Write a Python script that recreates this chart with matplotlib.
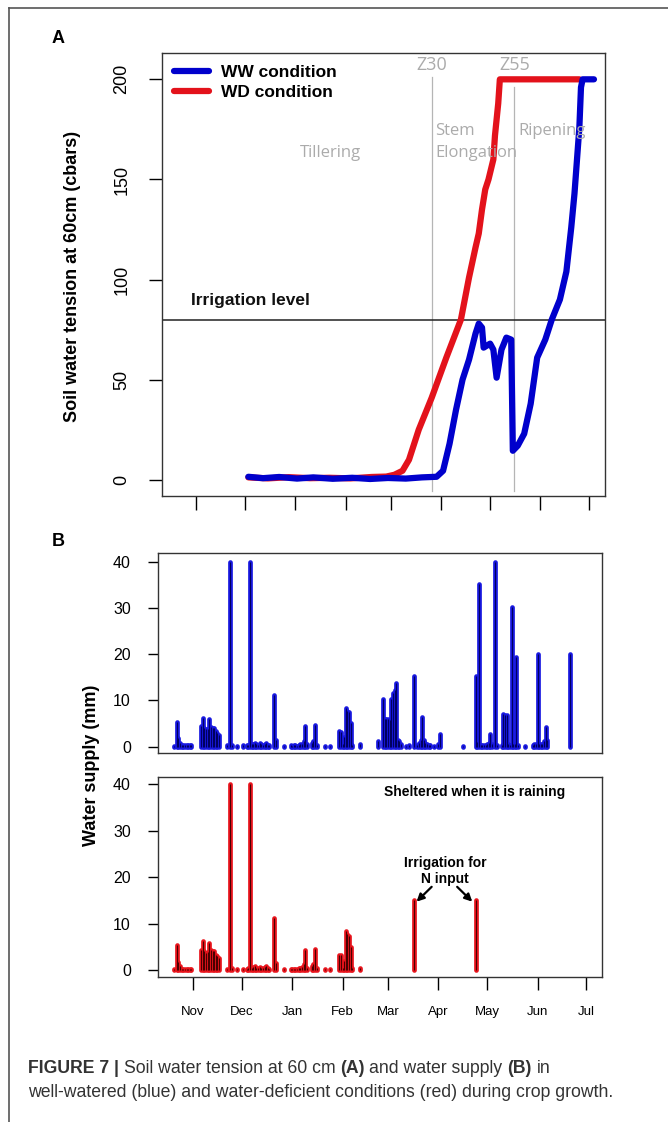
import matplotlib
matplotlib.use('Agg')
import matplotlib.pyplot as plt
import matplotlib.dates as mdates
from matplotlib.lines import Line2D

plt.rcParams['font.family'] = ['Liberation Sans', 'DejaVu Sans']

W, H = 668, 1122

# ---- panel A: soil water tension (cbars) ----
ww_tension_dates = ['2012-12-03', '2012-12-12', '2012-12-22', '2013-01-02', '2013-01-12',
                    '2013-01-24', '2013-02-05', '2013-02-16', '2013-02-27', '2013-03-10',
                    '2013-03-20', '2013-03-29', '2013-04-02', '2013-04-06', '2013-04-10',
                    '2013-04-14', '2013-04-18', '2013-04-22', '2013-04-24', '2013-04-26',
                    '2013-04-27', '2013-05-01', '2013-05-03', '2013-05-05', '2013-05-08',
                    '2013-05-11', '2013-05-14', '2013-05-15', '2013-05-18', '2013-05-22',
                    '2013-05-26', '2013-05-30', '2013-06-04', '2013-06-08', '2013-06-13',
                    '2013-06-17', '2013-06-20', '2013-06-22', '2013-06-24', '2013-06-25',
                    '2013-06-26', '2013-06-27', '2013-07-04']
ww_tension = [1.5, 0.8, 1.4, 0.6, 1.2, 0.5, 1.0, 0.4, 0.9, 0.6,
              1.2, 1.5, 4.5, 18, 35, 50, 60, 73, 78, 76,
              66, 68, 65, 51, 65, 71, 70, 14.5, 17, 23,
              38, 61, 70, 80, 90, 104, 126, 143, 165, 176,
              196, 200, 200]

wd_tension_dates = ['2012-12-03', '2012-12-15', '2012-12-28', '2013-01-10', '2013-01-22',
                    '2013-02-04', '2013-02-17', '2013-02-26', '2013-03-03', '2013-03-08',
                    '2013-03-12', '2013-03-18', '2013-03-26', '2013-04-04', '2013-04-13',
                    '2013-04-18', '2013-04-22', '2013-04-24', '2013-04-26', '2013-04-28',
                    '2013-04-30', '2013-05-03', '2013-05-04', '2013-05-06', '2013-05-07',
                    '2013-06-25']
wd_tension = [1.2, 0.7, 1.3, 0.8, 1.0, 0.7, 1.4, 1.6, 2.5, 4.5,
              10, 25, 41, 61, 80, 101, 116, 123, 135, 145,
              150, 160, 172, 188, 200, 200]

irrigation_level = 80
stage_dates = ['2013-03-26', '2013-05-16']
stage_names = ['Z30', 'Z55']

# ---- panel B: water supply (mm) ----
# rain received by both treatments before the shelter was used
rain_dates = ['2012-10-20', '2012-10-22', '2012-10-23', '2012-10-24', '2012-10-25',
              '2012-10-26', '2012-10-27', '2012-10-28', '2012-10-29', '2012-10-30',
              '2012-10-31', '2012-11-06', '2012-11-07', '2012-11-08', '2012-11-09',
              '2012-11-10', '2012-11-11', '2012-11-12', '2012-11-13', '2012-11-14',
              '2012-11-15', '2012-11-16', '2012-11-17', '2012-11-22', '2012-11-24',
              '2012-11-25', '2012-11-28', '2012-12-02', '2012-12-04', '2012-12-05',
              '2012-12-06', '2012-12-07', '2012-12-08', '2012-12-09', '2012-12-10',
              '2012-12-11', '2012-12-12', '2012-12-13', '2012-12-14', '2012-12-15',
              '2012-12-16', '2012-12-17', '2012-12-18', '2012-12-21', '2012-12-22',
              '2012-12-27', '2012-12-31', '2013-01-01', '2013-01-02', '2013-01-03',
              '2013-01-04', '2013-01-05', '2013-01-06', '2013-01-07', '2013-01-08',
              '2013-01-09', '2013-01-10', '2013-01-13', '2013-01-14', '2013-01-15',
              '2013-01-16', '2013-01-21', '2013-01-24', '2013-01-30', '2013-01-31',
              '2013-02-01', '2013-02-02', '2013-02-03', '2013-02-04', '2013-02-05',
              '2013-02-06', '2013-02-07', '2013-02-12']
rain_mm = [0.2, 5.4, 1.8, 0.8, 0.3,
           0.3, 0.3, 0.3, 0.3, 0.3,
           0.3, 4.4, 6.2, 4.0, 3.7,
           3.8, 5.9, 4.2, 4.1, 4.0,
           3.3, 3.0, 2.6, 0.3, 40,
           0.4, 0.2, 0.3, 0.3, 0.4,
           40, 0.5, 0.6, 0.8, 0.5,
           0.4, 0.7, 0.5, 0.4, 0.6,
           0.8, 0.4, 0.3, 11.1, 1.5,
           0.2, 0.3, 0.2, 0.3, 0.3,
           0.2, 0.4, 0.5, 0.6, 1.2,
           4.4, 0.5, 0.8, 1.2, 4.6,
           0.4, 0.2, 0.2, 3.3, 3.2,
           0.5, 2.0, 8.4, 7.7, 7.4,
           5.0, 0.4, 0.5]

# well-watered plot after that date (rain + irrigation)
ww_spring_dates = ['2013-02-23', '2013-02-26', '2013-02-27', '2013-02-28', '2013-03-01',
                   '2013-03-02', '2013-03-03', '2013-03-04', '2013-03-05', '2013-03-06',
                   '2013-03-07', '2013-03-08', '2013-03-09', '2013-03-12', '2013-03-14',
                   '2013-03-17', '2013-03-19', '2013-03-20', '2013-03-21', '2013-03-22',
                   '2013-03-23', '2013-03-24', '2013-03-25', '2013-03-26', '2013-03-27',
                   '2013-03-29', '2013-04-01', '2013-04-02', '2013-04-16', '2013-04-24',
                   '2013-04-25', '2013-04-26', '2013-04-27', '2013-04-28', '2013-04-29',
                   '2013-04-30', '2013-05-01', '2013-05-02', '2013-05-03', '2013-05-04',
                   '2013-05-06', '2013-05-07', '2013-05-10', '2013-05-11', '2013-05-12',
                   '2013-05-13', '2013-05-14', '2013-05-15', '2013-05-16', '2013-05-17',
                   '2013-05-18', '2013-05-19', '2013-05-20', '2013-05-24', '2013-05-29',
                   '2013-05-30', '2013-05-31', '2013-06-01', '2013-06-02', '2013-06-03',
                   '2013-06-04', '2013-06-05', '2013-06-06', '2013-06-07', '2013-06-21']
ww_spring_mm = [1.2, 10.2, 6.0, 5.9, 6.0,
                5.8, 10.3, 11.5, 12.3, 13.7,
                1.5, 1.2, 0.5, 0.2, 0.3,
                15.3, 0.4, 0.8, 1.5, 6.4,
                1.5, 0.8, 0.5, 0.4, 0.3,
                0.2, 0.5, 2.7, 0.2, 15.3,
                1.0, 35.2, 0.4, 0.3, 0.3,
                0.3, 0.5, 0.8, 2.7, 0.5,
                40, 0.3, 0.4, 7.0, 6.9,
                6.8, 0.5, 0.4, 30.1, 0.5,
                0.5, 19.4, 0.3, 0.2, 0.3,
                0.5, 0.6, 20.1, 0.6, 0.5,
                0.6, 1.2, 4.3, 1.5, 20]

# water-deficient plot: sheltered, only two irrigations for N input
wd_irrig_dates = ['2013-03-17', '2013-04-24']
wd_irrig_mm = [15, 15]

month_starts = ['2012-11-01', '2012-12-01', '2013-01-01', '2013-02-01', '2013-03-01',
                '2013-04-01', '2013-05-01', '2013-06-01', '2013-07-01']
month_labels = ['Nov', 'Dec', 'Jan', 'Feb', 'Mar', 'Apr', 'May', 'Jun', 'Jul']

BLUE = '#0000cc'
RED = '#e3121b'
GREY_TXT = '#ababab'


def fx(px):
    return px / W


def fy(py):
    return 1 - py / H


def box(l, t, r, b):
    return [l / W, 1 - b / H, (r - l) / W, (b - t) / H]


def d2n(dates):
    return mdates.datestr2num(dates)


fig = plt.figure(figsize=(W / 100, H / 100), dpi=100)

axA = fig.add_axes(box(161.7, 53.3, 605, 495.5))
axB1 = fig.add_axes(box(158.3, 553.3, 602.3, 753.3))
axB2 = fig.add_axes(box(158.3, 776.7, 602.3, 976.5))

nov1 = mdates.datestr2num('2012-11-01')
for ax in (axA, axB1, axB2):
    ax.set_xlim(nov1 - 21.4, nov1 + 251.8)
    for s in ax.spines.values():
        s.set_linewidth(1.0)
        s.set_color('#333333')

# ---------- panel A ----------
lwd, = axA.plot(d2n(wd_tension_dates), wd_tension, color=RED, lw=4.5,
                solid_capstyle='round', solid_joinstyle='round', label='WD condition')
lww, = axA.plot(d2n(ww_tension_dates), ww_tension, color=BLUE, lw=4.5,
                solid_capstyle='round', solid_joinstyle='round', label='WW condition')
axA.axhline(irrigation_level, color='#222222', lw=1.1, zorder=1)
axA.text(nov1 - 3.1, irrigation_level + 9.7, 'Irrigation level', fontsize=12.5,
         weight='bold', ha='left', va='center', color='#111111')

stage_x = d2n(stage_dates)
axA.plot([stage_x[0]] * 2, [-5.4, 201], color='#b5b5b5', lw=0.9, zorder=0)
axA.plot([stage_x[1]] * 2, [-5.4, 196], color='#b5b5b5', lw=0.9, zorder=0)
for xs, name in zip(stage_x, stage_names):
    axA.text(xs, 207, name, family='Open Sans', fontsize=13, color=GREY_TXT,
             ha='center', va='center')
axA.text(nov1 + 82.6, 163, 'Tillering', family='Open Sans', fontsize=12,
         color=GREY_TXT, ha='center', va='center')
axA.text(stage_x[0] + 2, 174, 'Stem', family='Open Sans', fontsize=12,
         color=GREY_TXT, ha='left', va='center')
axA.text(stage_x[0] + 2, 163, 'Elongation', family='Open Sans', fontsize=12,
         color=GREY_TXT, ha='left', va='center')
axA.text(stage_x[1] + 2.5, 174, 'Ripening', family='Open Sans', fontsize=12,
         color=GREY_TXT, ha='left', va='center')

axA.set_ylim(-7.85, 213)
axA.set_yticks([0, 50, 100, 150, 200])
axA.tick_params(axis='y', length=9.6, width=1, pad=13, labelsize=13)
for lab in axA.get_yticklabels():
    lab.set_rotation(90)
    lab.set_va('center')
axA.set_xticks(d2n(month_starts))
axA.set_xticklabels([])
axA.tick_params(axis='x', length=10, width=1)

axA.legend(handles=[lww, lwd], loc='upper left', frameon=False,
           bbox_to_anchor=(fx(174), fy(64.5)), bbox_transform=fig.transFigure,
           borderpad=0, borderaxespad=0, handlelength=2.0, handletextpad=0.73,
           labelspacing=0.28, prop={'weight': 'bold', 'size': 12.5})


# ---------- panel B ----------
def draw_supply(ax, dates, mm, fill, core):
    x = d2n(dates)
    ax.vlines(x, 0, mm, colors=fill, lw=3.4, capstyle='round')
    ax.vlines(x, 0, mm, colors=core, lw=0.8)


draw_supply(axB1, rain_dates, rain_mm, '#1818e0', '#000060')
draw_supply(axB1, ww_spring_dates, ww_spring_mm, '#1818e0', '#000060')
draw_supply(axB2, rain_dates, rain_mm, '#e8141c', '#4a0000')
draw_supply(axB2, wd_irrig_dates, wd_irrig_mm, '#e8141c', '#4a0000')

axB1.set_ylim(-1.45, 41.8)
axB2.set_ylim(-1.4, 41.6)
for ax in (axB1, axB2):
    ax.set_yticks([0, 10, 20, 30, 40])
    ax.tick_params(axis='y', length=7.2, width=1, pad=12.5, labelsize=11.5)
axB1.set_xticks([])
axB2.set_xticks(d2n(month_starts))
axB2.set_xticklabels(month_labels)
axB2.tick_params(axis='x', length=9.4, width=1, pad=12, labelsize=9.5)

axB2.text(nov1 + 173, 38.2, 'Sheltered when it is raining', fontsize=10,
          weight='bold', ha='center', va='center')
irr_x = d2n(wd_irrig_dates)
axB2.text((irr_x[0] + irr_x[1]) / 2, 21.3, 'Irrigation for\nN input', fontsize=10,
          weight='bold', ha='center', va='center', linespacing=1.25)
arrow = dict(arrowstyle='-|>', lw=1.6, color='black', mutation_scale=11,
             shrinkA=0, shrinkB=0)
axB2.annotate('', xy=(irr_x[0] + 1.5, 14.7), xytext=(irr_x[0] + 10.8, 17.9),
              arrowprops=arrow)
axB2.annotate('', xy=(irr_x[1] - 2.2, 14.7), xytext=(irr_x[1] - 11.5, 17.9),
              arrowprops=arrow)

# ---------- figure texts ----------
fig.text(fx(58), fy(38.5), 'A', fontsize=13, weight='bold', ha='center', va='center')
fig.text(fx(58), fy(541), 'B', fontsize=13, weight='bold', ha='center', va='center')
fig.text(fx(73), fy(276), 'Soil water tension at 60cm (cbars)', fontsize=13,
         weight='bold', rotation=90, ha='center', va='center')
fig.text(fx(91), fy(765), 'Water supply (mm)', fontsize=13, weight='bold',
         rotation=90, ha='center', va='center')

# outer frame of the figure (left and top edges only are visible)
fig.add_artist(Line2D([fx(9), fx(9)], [0, fy(8)], color='#555555', lw=1.2))
fig.add_artist(Line2D([fx(9), 1], [fy(8), fy(8)], color='#555555', lw=1.2))

# caption with mixed weights
renderer = fig.canvas.get_renderer()
cap_size = 12.7
cap_color = '#333333'
t1 = fig.text(0, 0, 'x x', fontsize=cap_size)
t2 = fig.text(0, 0, 'xx', fontsize=cap_size)
space_w = t1.get_window_extent(renderer).width - t2.get_window_extent(renderer).width
t1.remove()
t2.remove()


def rich_line(x_px, y_px, parts):
    x = x_px
    for s, w in parts:
        t = fig.text(fx(x), fy(y_px), s, fontsize=cap_size, weight=w,
                     color=cap_color, ha='left', va='baseline')
        x += t.get_window_extent(renderer).width + space_w


rich_line(27.7, 1072.7, [('FIGURE 7 |', 'bold'), ('Soil water tension at 60 cm', 'normal'),
                         ('(A)', 'bold'), ('and water supply', 'normal'), ('(B)', 'bold'),
                         ('in', 'normal')])
rich_line(27.7, 1097, [('well-watered (blue) and water-deficient conditions (red) '
                        'during crop growth.', 'normal')])

fig.savefig('out.png', dpi=100)
